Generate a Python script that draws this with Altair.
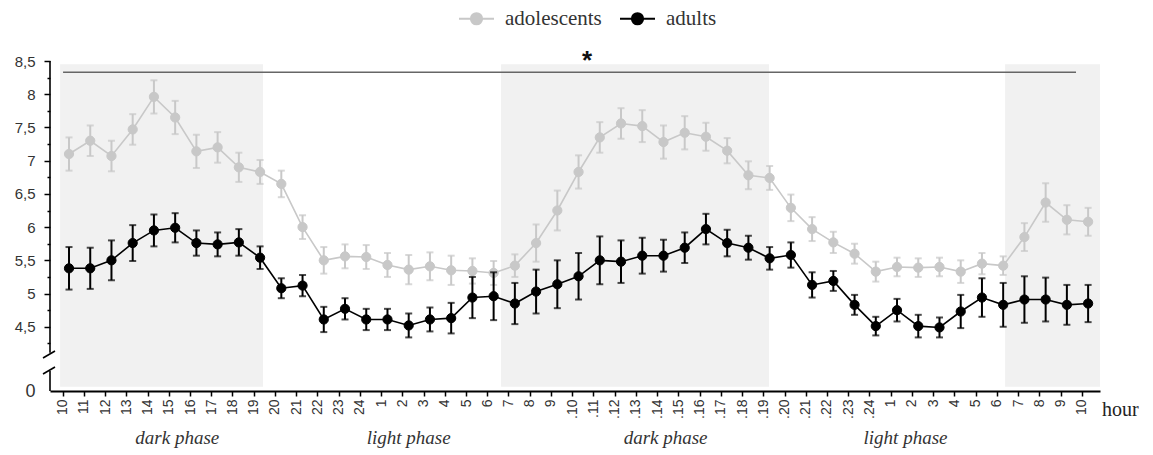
import altair as alt
import pandas as pd

# ---------------- data ----------------
hour_labels = ["10", "11", "12", "13", "14", "15", "16", "17", "18", "19",
               "20", "21", "22", "23", "24", "1", "2", "3", "4", "5",
               "6", "7", "8", "9", ".10", ".11", ".12", ".13", ".14", ".15",
               ".16", ".17", ".18", ".19", ".20", ".21", ".22", ".23", ".24", "1",
               "2", "3", "4", "5", "6", "7", "8", "9", "10"]

adolescents_mean = [7.10, 7.30, 7.07, 7.47, 7.96, 7.65, 7.14, 7.20, 6.90, 6.83,
                    6.65, 6.00, 5.50, 5.56, 5.55, 5.43, 5.36, 5.41, 5.35, 5.34,
                    5.31, 5.42, 5.76, 6.25, 6.83, 7.35, 7.56, 7.52, 7.28, 7.42,
                    7.36, 7.15, 6.78, 6.74, 6.29, 5.97, 5.77, 5.60, 5.33, 5.40,
                    5.39, 5.40, 5.33, 5.45, 5.42, 5.85, 6.37, 6.11, 6.08]
adolescents_sem = [0.25, 0.23, 0.23, 0.23, 0.25, 0.25, 0.25, 0.23, 0.22, 0.18,
                   0.20, 0.18, 0.20, 0.18, 0.18, 0.18, 0.22, 0.21, 0.22, 0.19,
                   0.18, 0.17, 0.28, 0.30, 0.25, 0.23, 0.23, 0.24, 0.25, 0.25,
                   0.21, 0.19, 0.21, 0.18, 0.20, 0.18, 0.16, 0.15, 0.15, 0.14,
                   0.14, 0.14, 0.17, 0.16, 0.14, 0.21, 0.29, 0.22, 0.21]

adults_mean = [5.38, 5.38, 5.50, 5.76, 5.95, 5.99, 5.76, 5.74, 5.77, 5.54,
               5.08, 5.12, 4.61, 4.77, 4.61, 4.61, 4.52, 4.61, 4.63, 4.94,
               4.96, 4.85, 5.03, 5.14, 5.26, 5.50, 5.48, 5.57, 5.57, 5.69,
               5.97, 5.76, 5.69, 5.53, 5.58, 5.13, 5.19, 4.83, 4.51, 4.75,
               4.51, 4.49, 4.73, 4.94, 4.83, 4.91, 4.91, 4.83, 4.85]
adults_sem = [0.32, 0.31, 0.30, 0.27, 0.24, 0.22, 0.19, 0.18, 0.20, 0.17,
              0.15, 0.16, 0.19, 0.16, 0.16, 0.16, 0.18, 0.18, 0.23, 0.31,
              0.36, 0.31, 0.33, 0.36, 0.35, 0.36, 0.32, 0.27, 0.24, 0.23,
              0.23, 0.20, 0.18, 0.17, 0.19, 0.19, 0.15, 0.15, 0.14, 0.17,
              0.17, 0.15, 0.25, 0.29, 0.33, 0.35, 0.33, 0.30, 0.28]

groups = ["adolescents", "adults"]
group_colors = ["#c8c8c8", "#000000"]

# dark-phase shaded intervals (in hour-index units)
dark_start = [-0.42, 20.35, 44.09]
dark_end = [9.14, 32.97, 48.56]

phase_names = ["dark phase", "light phase", "dark phase", "light phase"]
phase_centers = [5.1, 16.0, 28.1, 39.4]

sig_start, sig_end, sig_level, sig_star_pos = -0.28, 47.43, 8.33, 24.4

# ---------------- frames ----------------
rows = []
for g, means, sems in [("adolescents", adolescents_mean, adolescents_sem),
                       ("adults", adults_mean, adults_sem)]:
    for i, (m, s) in enumerate(zip(means, sems)):
        rows.append({"idx": i, "mean": m, "lo": m - s, "hi": m + s, "group": g})
df = pd.DataFrame(rows)

shade_df = pd.DataFrame({"x0": dark_start, "x1": dark_end,
                         "y0": [0.55] * 3, "y1": [8.45] * 3})
phase_df = pd.DataFrame({"x": phase_centers, "t": phase_names})
sig_df = pd.DataFrame({"x0": [sig_start], "x1": [sig_end], "y": [sig_level],
                       "xs": [sig_star_pos], "t": ["*"]})
yline_df = pd.DataFrame({"y0": [4.11, 0.0], "y1": [8.5, 2.62]})

# ---------------- scales / axes ----------------
xscale = alt.Scale(domain=[-0.895, 48.56], nice=False, zero=False)
yscale = alt.Scale(domain=[0, 4, 8.5], range=[330, 299, 0], nice=False, zero=False)

labels_js = "[" + ",".join("'" + s + "'" for s in hour_labels) + "]"
xaxis = alt.Axis(values=[i - 0.3 for i in range(len(hour_labels))],
                 labelExpr=labels_js + "[round(datum.value + 0.3)]",
                 labelAngle=270, labelAlign="right", labelBaseline="middle",
                 labelPadding=3, tickSize=5, tickColor="black", tickWidth=1.5,
                 domainColor="black", domainWidth=1.8, labelFont="Liberation Sans",
                 labelFontSize=14, labelColor="#333", grid=False, title=None,
                 labelOverlap=False, labelFlush=False)

yvals = [0] + [4.25 + 0.25 * k for k in range(18)]
yaxis = alt.Axis(values=yvals,
                 labelExpr="datum.value % 0.5 == 0 ? replace(toString(datum.value), '.', ',') : ''",
                 domain=False, grid=False, title=None,
                 tickColor="black", tickWidth=1.5,
                 tickSize={"condition": {"test": "datum.value % 0.5 != 0", "value": 3}, "value": 6},
                 tickOpacity={"condition": {"test": "datum.value == 0", "value": 0}, "value": 1},
                 labelFont="Liberation Sans",
                 labelFontSize={"condition": {"test": "datum.value == 0", "value": 18}, "value": 15},
                 labelColor="#333", labelPadding=9, labelFlush=False, labelOverlap=False)


def X(f):
    return alt.X(f, type="quantitative", scale=xscale, axis=xaxis)


def Y(f):
    return alt.Y(f, type="quantitative", scale=yscale, axis=yaxis)


cscale = alt.Scale(domain=groups, range=group_colors)
sym = ("M-1,0L1,0M-0.32,0A0.32,0.32,0,1,0,0.32,0"
       "A0.32,0.32,0,1,0,-0.32,0Z")
leg = alt.Legend(orient="none", legendX=408, legendY=-61, direction="horizontal",
                 title=None, symbolType=sym, symbolSize=1225, symbolStrokeWidth=2,
                 labelFont="Liberation Serif", labelFontSize=21, labelColor="#333",
                 columnPadding=14, labelOffset=10)

# ---------------- layers ----------------
shade = alt.Chart(shade_df).mark_rect(color="#f1f1f1").encode(
    x=X("x0"), x2="x1", y=Y("y0"), y2="y1")

sig_rule = alt.Chart(sig_df).mark_rule(color="#666", strokeWidth=1.6).encode(
    x=X("x0"), x2="x1", y=Y("y"))
sig_star = alt.Chart(sig_df).mark_text(font="Liberation Sans", fontSize=26,
                                       fontWeight="bold",
                                       baseline="alphabetic", dy=-3, color="#111").encode(
    x=X("xs"), y=Y("y"), text="t:N")

layers = [shade, sig_rule, sig_star]
for g, c in zip(groups, group_colors):
    base = alt.Chart(df).transform_filter(alt.datum.group == g)
    layers.append(base.mark_rule(strokeWidth=2, color=c).encode(
        x=X("idx"), y=Y("lo"), y2="hi"))
    layers.append(base.mark_tick(orient="horizontal", size=7, thickness=2, color=c).encode(
        x=X("idx"), y=Y("lo")))
    layers.append(base.mark_tick(orient="horizontal", size=7, thickness=2, color=c).encode(
        x=X("idx"), y=Y("hi")))
    layers.append(base.mark_line(strokeWidth=1.6).encode(
        x=X("idx"), y=Y("mean"),
        stroke=alt.Stroke("group:N", scale=cscale, legend=leg)))
    layers.append(base.mark_circle(size=85, opacity=1, strokeWidth=1).encode(
        x=X("idx"), y=Y("mean"),
        fill=alt.Fill("group:N", scale=cscale, legend=leg),
        stroke=alt.Stroke("group:N", scale=cscale, legend=leg)))

# broken y axis
yline = alt.Chart(yline_df).mark_rule(color="black", strokeWidth=1.6).encode(
    x=alt.value(0), y=Y("y0"), y2="y1")
slash1 = alt.Chart(yline_df.head(1)).mark_rule(color="black", strokeWidth=1.6).encode(
    x=alt.value(-7), x2=alt.value(5), y=alt.value(297), y2=alt.value(290))
slash2 = alt.Chart(yline_df.head(1)).mark_rule(color="black", strokeWidth=1.6).encode(
    x=alt.value(-7), x2=alt.value(5), y=alt.value(313), y2=alt.value(306))

phase_text = alt.Chart(phase_df).mark_text(font="Liberation Serif", fontSize=19,
                                           fontStyle="italic", color="#333",
                                           baseline="middle").encode(
    x=X("x"), y=alt.value(377), text="t:N")
hour_text = alt.Chart(pd.DataFrame({"t": ["hour"]})).mark_text(
    font="Liberation Serif", fontSize=20, color="#222", align="left",
    baseline="middle").encode(x=alt.value(1052), y=alt.value(349), text="t:N")

layers += [yline, slash1, slash2, phase_text, hour_text]

chart = alt.layer(*layers).properties(
    width=1050, height=330,
    padding={"left": 50, "top": 61, "right": 53, "bottom": 64},
    autosize=alt.AutoSizeParams(type="none"),
).configure_view(stroke=None).configure_legend(
    labelFont="Liberation Serif", labelFontSize=21, labelColor="#333"
)

chart.save("out.html", embed_options={"renderer": "svg", "actions": False})
